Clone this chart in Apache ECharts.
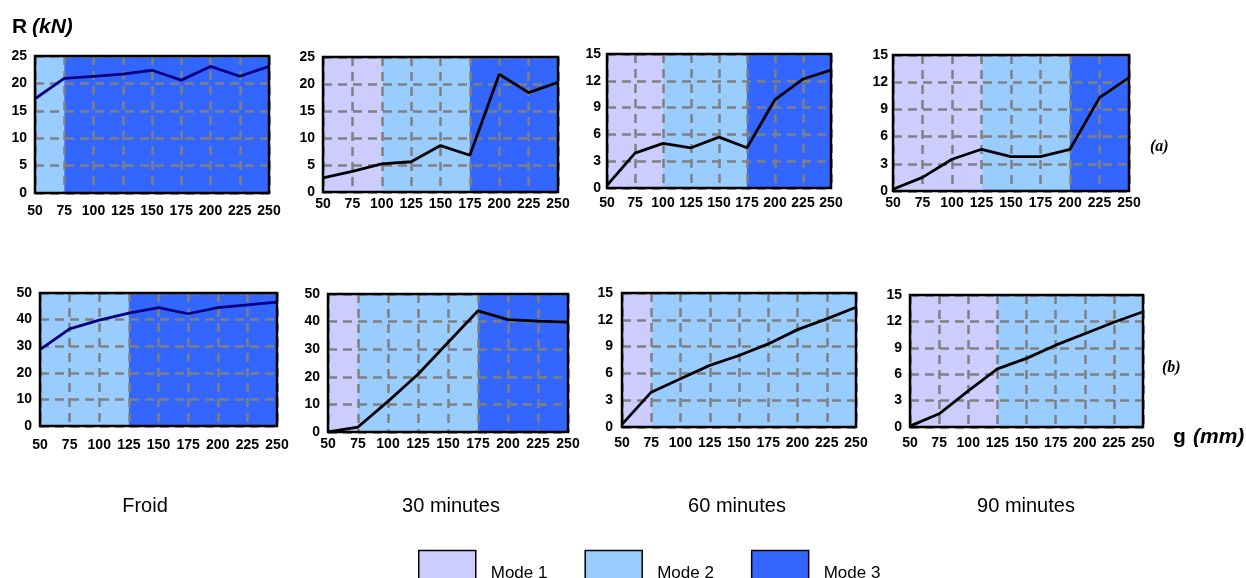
<!DOCTYPE html>
<html>
<head>
<meta charset="utf-8">
<script src="https://cdn.jsdelivr.net/npm/echarts@6/dist/echarts.min.js"></script>
<style>html,body{margin:0;padding:0;background:#fff}#c{width:1246px;height:578px}</style>
</head>
<body>
<div id="c"></div>
<script>
// g (mm) values
const gValues = [50, 75, 100, 125, 150, 175, 200, 225, 250];

// R (kN) values, row (a)
const froidA = [17.2, 20.9, 21.3, 21.7, 22.4, 20.6, 23.1, 21.3, 23.1];
const min30A = [2.6, 3.8, 5.2, 5.6, 8.6, 6.8, 21.8, 18.4, 20.3];
const min60A = [0.3, 3.9, 5.0, 4.5, 5.7, 4.5, 9.9, 12.2, 13.2];
const min90A = [0.2, 1.5, 3.5, 4.6, 3.8, 3.8, 4.6, 10.3, 12.5];

// R (kN) values, row (b)
const froidB = [28.7, 36.5, 39.8, 42.4, 44.5, 42.2, 44.5, 45.5, 46.6];
const min30B = [0.0, 1.8, 11.1, 20.9, 32.4, 43.9, 40.7, 40.2, 39.8];
const min60B = [0.3, 3.9, 5.4, 6.9, 8.0, 9.3, 10.9, 12.1, 13.4];
const min90B = [0.1, 1.5, 4.1, 6.6, 7.8, 9.3, 10.6, 11.9, 13.1];

// Mode zones: [mode, from g, to g]
const zonesFroidA = [[2, 50, 75], [3, 75, 250]];
const zones30A = [[1, 50, 100], [2, 100, 175], [3, 175, 250]];
const zones60A = [[1, 50, 100], [2, 100, 175], [3, 175, 250]];
const zones90A = [[1, 50, 125], [2, 125, 200], [3, 200, 250]];
const zonesFroidB = [[2, 50, 125], [3, 125, 250]];
const zones30B = [[1, 50, 75], [2, 75, 175], [3, 175, 250]];
const zones60B = [[1, 50, 75], [2, 75, 250]];
const zones90B = [[1, 50, 125], [2, 125, 250]];

// Y axis ranges [max, interval]
const yRanges = [[25, 5], [25, 5], [15, 3], [15, 3], [50, 10], [50, 10], [15, 3], [15, 3]];

const modeNames = ['Mode 1', 'Mode 2', 'Mode 3'];
const panelTitles = ['Froid', '30 minutes', '60 minutes', '90 minutes'];

const modeColors = {1: '#CCCCFF', 2: '#99CCFF', 3: '#3366FF'};

const panels = [
  {vals: froidA, zones: zonesFroidA, color: '#000080'},
  {vals: min30A, zones: zones30A, color: '#000'},
  {vals: min60A, zones: zones60A, color: '#000'},
  {vals: min90A, zones: zones90A, color: '#000'},
  {vals: froidB, zones: zonesFroidB, color: '#000080'},
  {vals: min30B, zones: zones30B, color: '#000'},
  {vals: min60B, zones: zones60B, color: '#000'},
  {vals: min90B, zones: zones90B, color: '#000'}
];

const gridBoxes = [
  {left: 35, top: 56, width: 234, height: 137},
  {left: 323, top: 57, width: 235, height: 135},
  {left: 607, top: 54, width: 224, height: 134},
  {left: 893, top: 55, width: 236, height: 136},
  {left: 40, top: 293, width: 237, height: 133},
  {left: 328, top: 294, width: 240, height: 138},
  {left: 622, top: 293, width: 234, height: 134},
  {left: 910, top: 295, width: 233, height: 132}
];
const xLabelMargins = [11, 5, 8, 5, 12, 5, 9, 9];
const yLabelMargins = [8, 8, 6, 5, 8, 8, 9, 8];

const FONT = 'Liberation Sans, Arial, sans-serif';
const splitStyle = {color: '#808080', width: 2.5, type: [9, 6]};

const grid = [], xAxis = [], yAxis = [], series = [];
panels.forEach((p, i) => {
  grid.push(Object.assign({show: true, borderColor: '#000', borderWidth: 2.5, backgroundColor: 'rgba(0,0,0,0)', z: 6}, gridBoxes[i]));
  xAxis.push({
    type: 'value', gridIndex: i, min: 50, max: 250, interval: 25, z: 3,
    axisLine: {show: false}, axisTick: {show: false},
    axisLabel: {margin: xLabelMargins[i], color: '#000', fontWeight: 'bold', fontSize: 14, fontFamily: FONT, showMinLabel: true, showMaxLabel: true},
    splitLine: {show: true, lineStyle: splitStyle}
  });
  yAxis.push({
    type: 'value', gridIndex: i, min: 0, max: yRanges[i][0], interval: yRanges[i][1], z: 3,
    axisLine: {show: false}, axisTick: {show: false},
    axisLabel: {margin: yLabelMargins[i], color: '#000', fontWeight: 'bold', fontSize: 14, fontFamily: FONT},
    splitLine: {show: true, lineStyle: splitStyle}
  });
  series.push({
    type: 'line', xAxisIndex: i, yAxisIndex: i, data: [], z: 1, silent: true,
    markArea: {
      silent: true,
      data: p.zones.map(zn => [
        {xAxis: zn[1], itemStyle: {color: modeColors[zn[0]], opacity: 1}},
        {xAxis: zn[2]}
      ])
    }
  });
  series.push({
    type: 'line', xAxisIndex: i, yAxisIndex: i, z: 5, symbol: 'none', silent: true,
    lineStyle: {color: p.color, width: 2.8},
    data: gValues.map((g, k) => [g, p.vals[k]])
  });
});

modeNames.forEach((n, k) => {
  series.push({name: n, type: 'line', xAxisIndex: 0, yAxisIndex: 0, data: [], itemStyle: {color: modeColors[k + 1]}, lineStyle: {color: modeColors[k + 1]}});
});

const titleCenters = [145, 451, 737, 1026];
const graphic = [];
panelTitles.forEach((t, k) => {
  graphic.push({type: 'text', x: titleCenters[k], y: 506, style: {text: t, fontSize: 20, fontFamily: FONT, fill: '#000', align: 'center', verticalAlign: 'middle'}});
});
graphic.push({type: 'text', x: 12, y: 27, style: {text: 'R', fontSize: 21, fontWeight: 'bold', fontFamily: FONT, fill: '#000', verticalAlign: 'middle'}});
graphic.push({type: 'text', x: 32, y: 27, style: {text: '(kN)', fontSize: 21, fontWeight: 'bold', fontStyle: 'italic', fontFamily: FONT, fill: '#000', verticalAlign: 'middle'}});
graphic.push({type: 'text', x: 1173, y: 437, style: {text: 'g', fontSize: 21, fontWeight: 'bold', fontFamily: FONT, fill: '#000', verticalAlign: 'middle'}});
graphic.push({type: 'text', x: 1193, y: 437, style: {text: '(mm)', fontSize: 21, fontWeight: 'bold', fontStyle: 'italic', fontFamily: FONT, fill: '#000', verticalAlign: 'middle'}});
graphic.push({type: 'text', x: 1150, y: 147, style: {text: '(a)', fontSize: 16, fontWeight: 'bold', fontStyle: 'italic', fontFamily: 'Liberation Serif, serif', fill: '#000', verticalAlign: 'middle'}});
graphic.push({type: 'text', x: 1162, y: 368, style: {text: '(b)', fontSize: 16, fontWeight: 'bold', fontStyle: 'italic', fontFamily: 'Liberation Serif, serif', fill: '#000', verticalAlign: 'middle'}});

const chart = echarts.init(document.getElementById('c'), null, {renderer: 'canvas'});
chart.setOption({
  animation: false,
  backgroundColor: '#fff',
  grid, xAxis, yAxis, series, graphic,
  legend: {
    data: modeNames, left: 418, top: 549, orient: 'horizontal', padding: 0,
    icon: 'rect', itemWidth: 57, itemHeight: 30, itemGap: 37,
    itemStyle: {borderColor: '#000', borderWidth: 1.5},
    formatter: name => '\n' + name,
    textStyle: {fontSize: 17, lineHeight: 16, color: '#000', fontFamily: FONT, padding: [0, 0, 0, 10]},
    selectedMode: false
  }
});
</script>
</body>
</html>
